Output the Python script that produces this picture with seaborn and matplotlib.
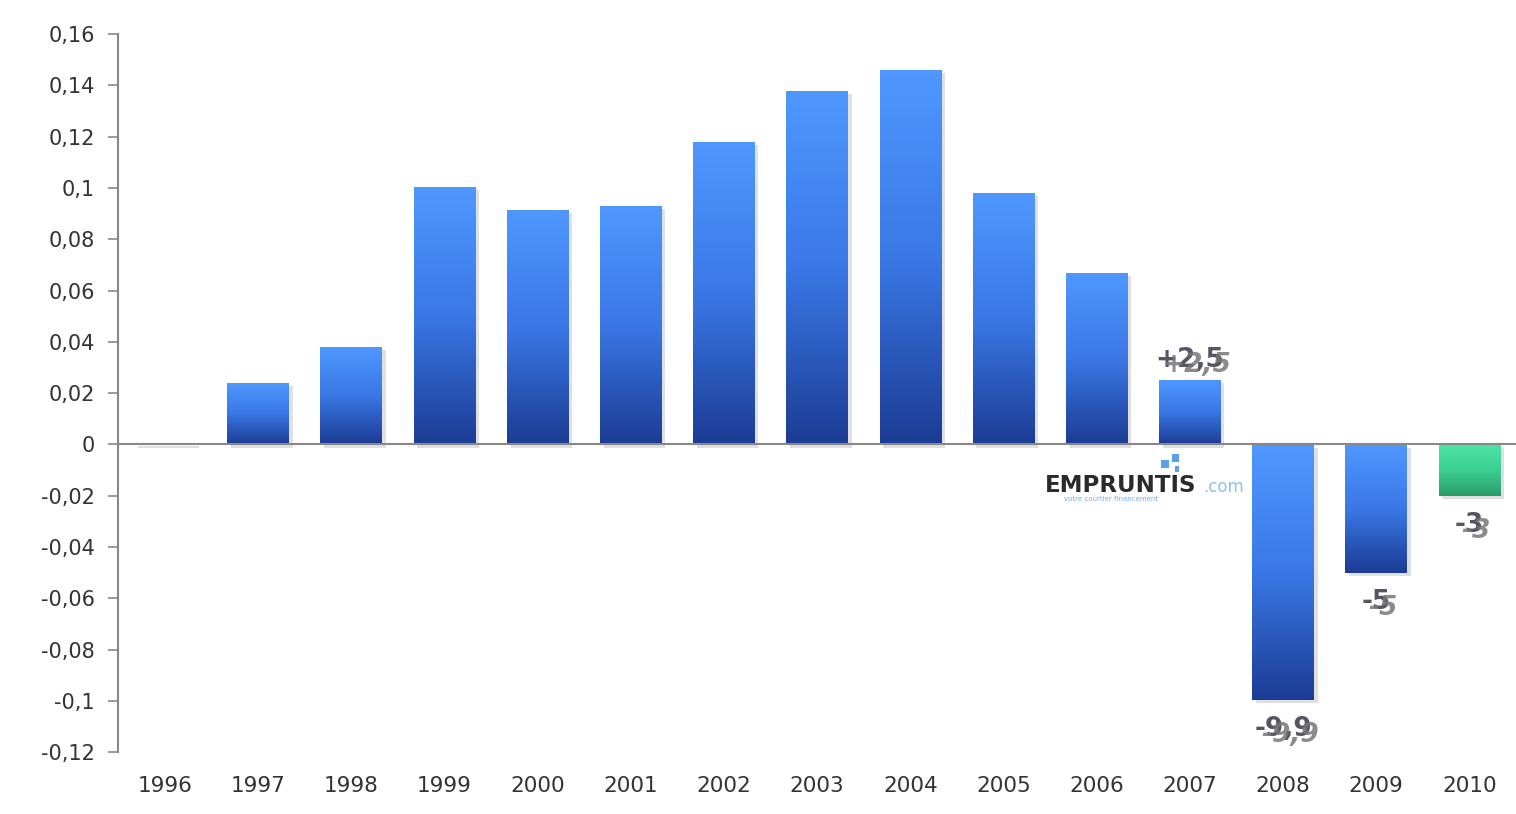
import numpy as np
import pandas as pd
import matplotlib
matplotlib.use("Agg")
import matplotlib.pyplot as plt
from matplotlib.colors import LinearSegmentedColormap
from matplotlib.patches import Rectangle
import seaborn as sns

# data
years = ["1996", "1997", "1998", "1999", "2000", "2001", "2002", "2003",
         "2004", "2005", "2006", "2007", "2008", "2009", "2010"]
values = [0.0006, 0.024, 0.038, 0.1005, 0.0915, 0.093, 0.118, 0.138,
          0.146, 0.098, 0.067, 0.025, -0.0995, -0.05, -0.02]
bar_kind = ["blue"] * 14 + ["green"]
label_years = ["2007", "2008", "2009", "2010"]
label_texts = ["+2,5", "-9,9", "-5", "-3"]
yticks = [0.16, 0.14, 0.12, 0.1, 0.08, 0.06, 0.04, 0.02, 0,
          -0.02, -0.04, -0.06, -0.08, -0.1, -0.12]

df = pd.DataFrame({"year": years, "value": values, "kind": bar_kind})

sns.set_style("white")
fig = plt.figure(figsize=(15.16, 8.14), dpi=100)
ax = fig.add_axes([0.078, 0.076, 0.922, 0.882])

sns.barplot(data=df, x="year", y="value", hue="year",
            palette=["#3f7fe0"] * 14 + ["#35c98e"], legend=False,
            width=0.66, ax=ax)

blue_map = LinearSegmentedColormap.from_list("b", ["#1c3c94", "#3a78e6", "#4f98ff"])
green_map = LinearSegmentedColormap.from_list("g", ["#2a9a6c", "#3ccf92", "#4fe3a8"])

grad = np.linspace(0, 1, 256).reshape(-1, 1)
for patch, kind in zip(ax.patches, bar_kind):
    x0, y0 = patch.get_x(), patch.get_y()
    w, h = patch.get_width(), patch.get_height()
    bottom, top = min(y0, y0 + h), max(y0, y0 + h)
    cmap = green_map if kind == "green" else blue_map
    # soft shadow
    ax.add_patch(Rectangle((x0 + 0.04, bottom - 0.0012), w, top - bottom,
                           facecolor="#000000", alpha=0.12, edgecolor="none", zorder=1))
    patch.set_facecolor("none")
    patch.set_edgecolor("none")
    im = ax.imshow(grad, cmap=cmap, origin="lower", aspect="auto",
                   extent=[x0, x0 + w, bottom, top], zorder=2)
    im.set_clip_path(patch)

ax.set_xlim(-0.5, 14.5)
ax.set_ylim(-0.12, 0.16)
ax.axhline(0, color="#888888", lw=1.5, zorder=3)

ax.set_yticks(yticks)
ax.set_yticklabels([f"{v:g}".replace(".", ",") for v in yticks])
ax.set_xlabel("")
ax.set_ylabel("")
ax.tick_params(axis="y", left=True, length=7, width=1.2, color="#888888",
               labelsize=15, labelcolor="#333333", pad=10)
ax.tick_params(axis="x", bottom=False, labelsize=15.5, labelcolor="#333333", pad=14)

for s in ["top", "right", "bottom"]:
    ax.spines[s].set_visible(False)
ax.spines["left"].set_color("#888888")
ax.spines["left"].set_linewidth(1.5)

# doubled value labels (ghosted, as in the original)
for yr, txt in zip(label_years, label_texts):
    i = years.index(yr)
    v = values[i]
    if v > 0:
        y, va = v + 0.003, "bottom"
    else:
        y, va = v - 0.0065, "top"
    ax.annotate(txt, (i, y), ha="center", va=va, fontsize=19, fontweight="bold",
                color="#555566", zorder=5)
    ax.annotate(txt, (i, y), xytext=(5, -4), textcoords="offset points",
                ha="center", va=va, fontsize=19, fontweight="bold", style="italic",
                color="#777777", alpha=0.85, zorder=5)

# watermark logo
fig.text(0.739, 0.404, "EMPRUNTIS", fontsize=16.5, fontweight="bold",
         color="#2a2a2a", ha="center", va="center")
fig.text(0.794, 0.402, ".com", fontsize=12, color="#8cc0f0", ha="left", va="center")
fig.text(0.733, 0.387, "votre courtier financement", fontsize=5, color="#7aaae8",
         ha="center", va="center")
fig.add_artist(Rectangle((0.766, 0.425), 0.005, 0.01, transform=fig.transFigure,
                         facecolor="#5aa0ee", edgecolor="none"))
fig.add_artist(Rectangle((0.773, 0.433), 0.005, 0.009, transform=fig.transFigure,
                         facecolor="#5aa0ee", edgecolor="none"))
fig.add_artist(Rectangle((0.775, 0.42), 0.003, 0.008, transform=fig.transFigure,
                         facecolor="#5aa0ee", edgecolor="none"))

fig.savefig("out.png", dpi=100, facecolor="white")
